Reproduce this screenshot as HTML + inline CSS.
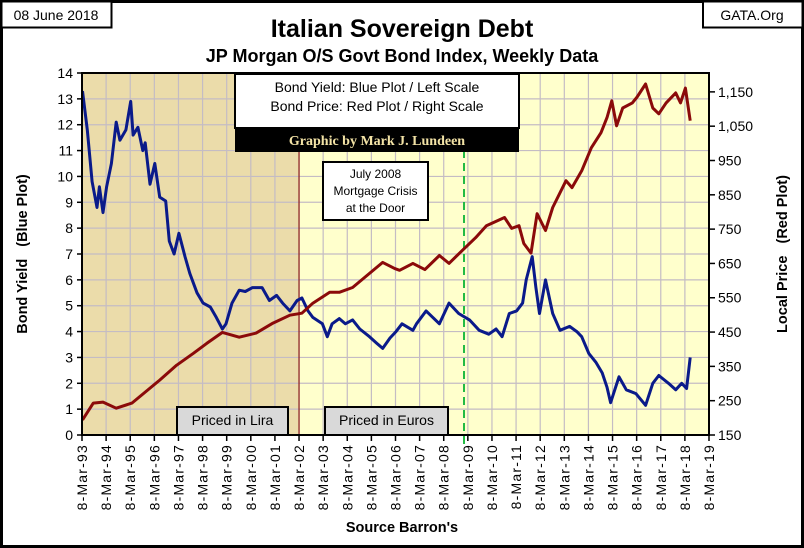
<!DOCTYPE html>
<html><head><meta charset="utf-8"><style>
html,body{margin:0;padding:0;background:#fff;}
svg{display:block;font-family:"Liberation Sans",sans-serif;}
</style></head><body>
<svg id="chart" width="804" height="548" viewBox="0 0 804 548">
<rect x="1.5" y="1.5" width="801" height="545" fill="#fff" stroke="#000" stroke-width="3"/>
<g><rect x="1.5" y="1.5" width="110" height="26" fill="#fff" stroke="#000" stroke-width="2"/><text x="56" y="20" font-size="14" text-anchor="middle">08 June 2018</text></g>
<g><rect x="703" y="1.5" width="99.5" height="26" fill="#fff" stroke="#000" stroke-width="2"/><text x="752" y="20" font-size="14" text-anchor="middle">GATA.Org</text></g>
<text x="402" y="37" font-size="25" font-weight="bold" text-anchor="middle">Italian Sovereign Debt</text>
<text x="402" y="62" font-size="18" font-weight="bold" text-anchor="middle">JP Morgan O/S Govt Bond Index, Weekly Data</text>
<g id="plot"></g>
<text transform="translate(27,254) rotate(-90)" font-size="14.5" font-weight="bold" text-anchor="middle">Bond Yield &#160;&#160;(Blue Plot)</text>
<text transform="translate(787,254) rotate(-90)" font-size="14.5" font-weight="bold" text-anchor="middle">Local Price &#160;&#160;(Red Plot)</text>
<text x="402" y="532" font-size="14.5" font-weight="bold" text-anchor="middle">Source Barron's</text>
</svg>
<script>
const yieldYears=[1993.2,1993.4,1993.6,1993.8,1993.9,1994.05,1994.2,1994.4,1994.6,1994.75,1995.0,1995.2,1995.3,1995.5,1995.7,1995.8,1996.0,1996.2,1996.4,1996.65,1996.8,1997.0,1997.2,1997.45,1997.65,1997.95,1998.2,1998.5,1998.75,1999.0,1999.15,1999.4,1999.7,1999.95,2000.25,2000.65,2000.95,2001.25,2001.5,2001.8,2002.1,2002.3,2002.55,2002.75,2003.15,2003.35,2003.55,2003.85,2004.1,2004.4,2004.7,2005.1,2005.4,2005.65,2005.95,2006.2,2006.45,2006.9,2007.05,2007.45,2008.0,2008.4,2008.8,2009.25,2009.65,2010.05,2010.35,2010.6,2010.9,2011.2,2011.45,2011.6,2011.85,2012.0,2012.15,2012.4,2012.7,2013.0,2013.4,2013.7,2013.9,2014.2,2014.5,2014.75,2014.95,2015.1,2015.45,2015.75,2016.15,2016.55,2016.85,2017.1,2017.5,2017.8,2018.05,2018.25,2018.4];
const yieldValues=[13.3,11.8,9.8,8.8,9.6,8.6,9.6,10.5,12.1,11.4,11.8,12.9,11.6,11.9,11.0,11.3,9.7,10.5,9.2,9.05,7.5,7.0,7.8,6.9,6.25,5.5,5.1,4.95,4.55,4.1,4.3,5.1,5.6,5.55,5.7,5.7,5.2,5.4,5.1,4.8,5.2,5.3,4.8,4.55,4.3,3.8,4.3,4.5,4.3,4.45,4.1,3.8,3.55,3.35,3.75,4.0,4.3,4.05,4.3,4.8,4.3,5.1,4.7,4.45,4.05,3.9,4.1,3.8,4.7,4.8,5.1,6.0,6.9,5.7,4.7,6.0,4.7,4.05,4.2,4.0,3.8,3.15,2.8,2.4,1.85,1.25,2.25,1.75,1.6,1.15,2.0,2.3,2.0,1.75,2.0,1.8,3.0];
const priceYears=[1993.2,1993.65,1994.05,1994.6,1995.25,1995.9,1996.4,1997.1,1997.8,1998.35,1999.0,1999.7,2000.4,2001.1,2001.8,2002.3,2002.75,2003.45,2003.85,2004.4,2005.1,2005.65,2006.15,2006.35,2006.9,2007.4,2008.0,2008.4,2008.95,2009.5,2009.95,2010.7,2011.0,2011.3,2011.5,2011.8,2012.05,2012.4,2012.7,2013.25,2013.5,2013.9,2014.3,2014.7,2014.95,2015.15,2015.35,2015.6,2016.0,2016.2,2016.55,2016.85,2017.1,2017.4,2017.8,2018.0,2018.2,2018.4];
const priceValues=[194,243,246,228,243,281,310,353,388,417,449,435,447,476,499,505,534,566,566,580,621,653,635,630,650,632,673,650,688,725,760,784,752,760,708,680,795,746,813,891,871,920,987,1031,1075,1124,1051,1103,1118,1135,1173,1103,1086,1118,1147,1118,1161,1066];
const leftTicks=[0,1,2,3,4,5,6,7,8,9,10,11,12,13,14];
const rightTicks=[150,250,350,450,550,650,750,850,950,1050,1150];
const rightTickLabels=["150","250","350","450","550","650","750","850","950","1,050","1,150"];
const xTickYears=[93,94,95,96,97,98,99,0,1,2,3,4,5,6,7,8,9,10,11,12,13,14,15,16,17,18,19];

const L=82,R=709,T=73,B=435;
const X0=1993.18,X1=2019.18;
const xs=y=>L+(y-X0)/(X1-X0)*(R-L);
const yl=v=>B-v/14*(B-T);
const yr=v=>B-(v-150)/(1205-150)*(B-T);
const NS="http://www.w3.org/2000/svg";
const g=document.getElementById('plot');
function mk(tag,attrs,parent){const e=document.createElementNS(NS,tag);for(const k in attrs)e.setAttribute(k,attrs[k]);(parent||g).appendChild(e);return e;}

let e;
e=mk('rect',{x:L,y:T,width:R-L,height:B-T,fill:'#ffffcc'});


const lx=xs(2002.18);
e=mk('rect',{x:L,y:T,width:lx-L,height:B-T,fill:'#ebdcaa'});


for(let i=0;i<=26;i++){const x=xs(X0+i);e=mk('line',{x1:x,y1:T,x2:x,y2:B,stroke:'#c4bcc4','stroke-width':1.2});

}
for(const v of leftTicks){const y=yl(v);e=mk('line',{x1:L,y1:y,x2:R,y2:y,stroke:'#c4bcc4','stroke-width':1.2});

}
e=mk('line',{x1:lx,y1:T,x2:lx,y2:B,stroke:'#8b1a1a','stroke-width':1.2});


e=mk('line',{x1:464,y1:150,x2:464,y2:448,stroke:'#22bb44','stroke-width':2,'stroke-dasharray':'8,5'});


const bp=yieldYears.map((y,i)=>xs(y).toFixed(1)+','+yl(yieldValues[i]).toFixed(1)).join(' ');
e=mk('polyline',{points:bp,fill:'none',stroke:'#0a1a8a','stroke-width':3,'stroke-linejoin':'round'});


const rp=priceYears.map((y,i)=>xs(y).toFixed(1)+','+yr(priceValues[i]).toFixed(1)).join(' ');
e=mk('polyline',{points:rp,fill:'none',stroke:'#8b0a0a','stroke-width':3,'stroke-linejoin':'round'});


e=mk('rect',{x:L,y:T,width:R-L,height:B-T,fill:'none',stroke:'#000','stroke-width':2});


for(const v of leftTicks){const y=yl(v);
e=mk('line',{x1:L-5,y1:y,x2:L,y2:y,stroke:'#000','stroke-width':1.5});


e=mk('text',{x:L-9,y:y+5,'font-size':14,'text-anchor':'end'});e.textContent=v;

}
rightTicks.forEach((v,i)=>{const y=yr(v);
e=mk('line',{x1:R,y1:y,x2:R+6,y2:y,stroke:'#000','stroke-width':1.5});


e=mk('text',{x:R+9,y:y+5,'font-size':14});e.textContent=rightTickLabels[i];

});
xTickYears.forEach((yy,i)=>{const x=xs(X0+i);
e=mk('line',{x1:x,y1:B,x2:x,y2:B+6,stroke:'#000','stroke-width':1.5});


e=mk('text',{transform:`translate(${x+5},${B+9}) rotate(-90)`,'font-size':14,'letter-spacing':1.2,'text-anchor':'end'});
e.textContent='8-Mar-'+String(yy).padStart(2,'0');

});
function box(name,x,y,w,h,lines,fs,fill){const gg=mk('g',{});


mk('rect',{x:x,y:y,width:w,height:h,fill:fill||'#fff',stroke:'#000','stroke-width':2},gg);
lines.forEach((t,i)=>{const tt=mk('text',{x:x+w/2,y:y+fs+4+i*(fs+5),'font-size':fs,'text-anchor':'middle'},gg);tt.textContent=t;});}
box('legend-box',235,74,284,54,['Bond Yield: Blue Plot / Left Scale','Bond Price: Red Plot / Right Scale'],14);
e=mk('rect',{x:235,y:128,width:284,height:24,fill:'#000'});


e=mk('text',{x:377,y:145,'font-size':14,'font-weight':'bold','text-anchor':'middle',fill:'#f3e3a6','font-family':'Liberation Serif, serif'});
e.textContent='Graphic by Mark J. Lundeen';


box('crisis-annotation',323,162,105,58,['July  2008','Mortgage Crisis','at the Door'],12);
box('lira-label',177,407,111,28,['Priced in Lira'],14,'#d9d9d9');
box('euro-label',325,407,123,28,['Priced in Euros'],14,'#d9d9d9');
</script>
</body></html>
